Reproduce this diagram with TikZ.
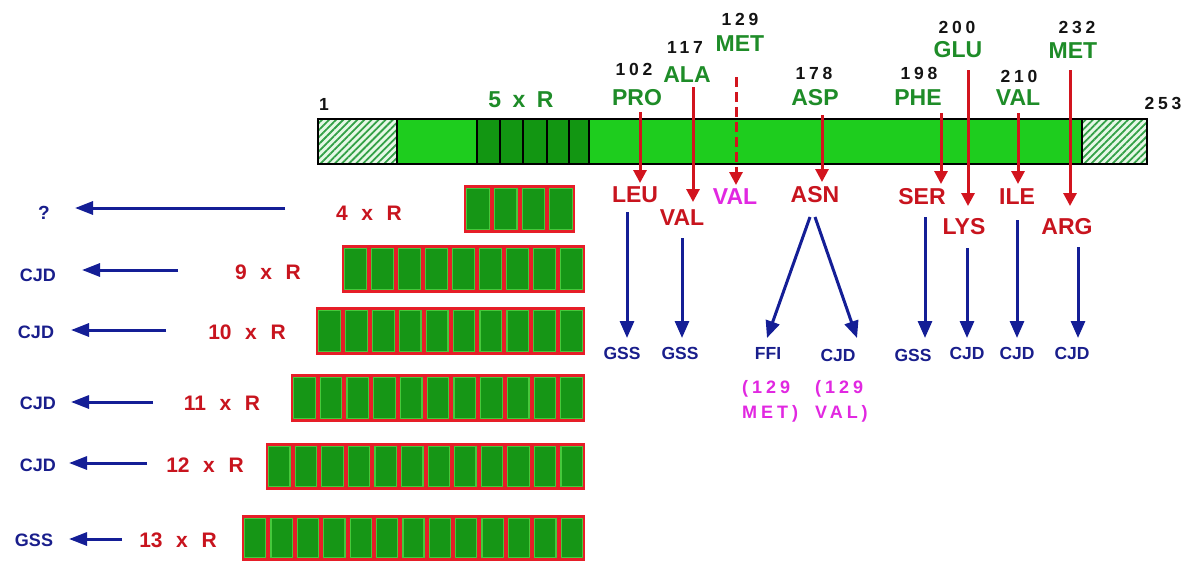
\documentclass[tikz,border=0pt]{standalone}
\usepackage{fontspec}
\setmainfont{Liberation Sans}
\newfontfamily\spfont[LetterSpace=22]{Liberation Sans Bold}
\usetikzlibrary{arrows.meta,patterns.meta}
\definecolor{barg}{RGB}{30,205,30}
\definecolor{repg}{RGB}{18,150,18}
\definecolor{hatchbg}{RGB}{230,248,230}
\definecolor{hatchg}{RGB}{50,160,70}
\definecolor{aagreen}{RGB}{30,140,40}
\definecolor{numblack}{RGB}{20,20,20}
\definecolor{mutred}{RGB}{200,20,30}
\definecolor{arrred}{RGB}{210,20,30}
\definecolor{magc}{RGB}{225,40,225}
\definecolor{disblue}{RGB}{25,30,140}
\definecolor{arrblue}{RGB}{20,30,150}
\definecolor{cellred}{RGB}{230,30,40}
\definecolor{cellg}{RGB}{22,150,22}
\definecolor{celledge}{RGB}{70,200,60}
\newcommand\xR[1]{#1\hspace{0.65em}x\hspace{0.65em}R}
\newcommand\repbox[5]{%
  \fill[cellred] (#1,#2) rectangle (#3,#4);
  \pgfmathsetmacro\cw{(#3-#1)/#5}
  \foreach \i in {1,...,#5}{%
    \pgfmathsetmacro\xa{#1+(\i-1)*\cw+2.6}
    \pgfmathsetmacro\xb{#1+\i*\cw-2.6}
    \draw[cell] (\xa,#2+3.2) rectangle (\xb,#4-3.2);
  }%
}
\begin{document}
\begin{tikzpicture}[x=1pt,y=-1pt,
  aa/.style={text=aagreen,font=\bfseries\fontsize{23}{25}\selectfont,inner sep=0pt},
  num/.style={text=numblack,font=\spfont\fontsize{17.5}{19}\selectfont,inner sep=0pt,xshift=2pt},
  mut/.style={text=mutred,font=\bfseries\fontsize{23}{25}\selectfont,inner sep=0pt},
  mutm/.style={mut,text=magc},
  dis/.style={text=disblue,font=\bfseries\fontsize{17.5}{19}\selectfont,inner sep=0pt},
  ldis/.style={text=disblue,font=\bfseries\fontsize{18}{20}\selectfont,inner sep=0pt},
  rlab/.style={text=mutred,font=\bfseries\fontsize{21}{23}\selectfont,inner sep=0pt},
  mag/.style={text=magc,font=\spfont\fontsize{18}{25}\selectfont,align=left,inner sep=0pt,anchor=north west},
  ra/.style={draw=arrred,line width=3pt,-{Triangle[length=13pt,width=13pt]}},
  rad/.style={ra,dash pattern=on 10pt off 5pt},
  ba/.style={draw=arrblue,line width=3pt,-{Triangle[length=17pt,width=14pt]}},
  la/.style={draw=arrblue,line width=3pt,-{Triangle[length=18pt,width=13pt]}},
  cell/.style={fill=cellg,draw=celledge,line width=1.2pt},
  barline/.style={draw=black,line width=1.5pt},
]
\useasboundingbox (0,0) rectangle (1193,562);
\fill[white] (0,0) rectangle (1193,562);

% main bar
\fill[hatchbg] (318,119) rectangle (397,164);
\fill[pattern={Lines[angle=45,distance=5pt,line width=1.8pt]},pattern color=hatchg] (318,119) rectangle (397,164);
\fill[hatchbg] (1082,119) rectangle (1147,164);
\fill[pattern={Lines[angle=45,distance=5pt,line width=1.8pt]},pattern color=hatchg] (1082,119) rectangle (1147,164);
\fill[barg] (397,119) rectangle (1082,164);
\fill[repg] (477,119) rectangle (589,164);
\foreach \x in {397,477,500,523,547,569,589,1082} \draw[barline,line width=1.2pt] (\x,119) -- (\x,164);
\draw[barline] (318,119) rectangle (1147,164);

% repeat boxes
\repbox{464}{185}{575}{233}{4}
\repbox{342}{245}{585}{293}{9}
\repbox{316}{307}{585}{355}{10}
\repbox{291}{374}{585}{422}{11}
\repbox{266}{443}{585}{490}{12}
\repbox{242}{515}{585}{561}{13}

% top labels
\node[num] (n1) at (322,104) {1};
\node[aa] (r5) at (521,100) {5\hspace{0.5em}x\hspace{0.5em}R};
\node[num] (n102) at (632,69) {102};
\node[aa] (pro) at (637,98) {PRO};
\node[num] (n117) at (683,47) {117};
\node[aa] (ala) at (687,75) {ALA};
\node[num] (n129) at (738,19) {129};
\node[aa] (met1) at (740,44) {MET};
\node[num] (n178) at (812,73) {178};
\node[aa] (asp) at (815,98) {ASP};
\node[num] (n198) at (917,73) {198};
\node[aa] (phe) at (918,98) {PHE};
\node[num] (n200) at (955,27) {200};
\node[aa] (glu) at (958,50) {GLU};
\node[num] (n210) at (1017,76) {210};
\node[aa] (val2) at (1018,98) {VAL};
\node[num] (n232) at (1075,27) {232};
\node[aa] (met2) at (1073,51) {MET};
\node[num] (n253) at (1161,103) {253};

% mutant labels
\node[mut] (leu) at (635,195) {LEU};
\node[mut] (valr) at (682,218) {VAL};
\node[mutm] (valm) at (735,197) {VAL};
\node[mut] (asn) at (815,195) {ASN};
\node[mut] (ser) at (922,197) {SER};
\node[mut] (lys) at (964,227) {LYS};
\node[mut] (ile) at (1017,197) {ILE};
\node[mut] (arg) at (1067,227) {ARG};

% disease labels
\node[dis] (gss1) at (622,353) {GSS};
\node[dis] (gss2) at (680,353) {GSS};
\node[dis] (ffi) at (768,353) {FFI};
\node[dis] (cjd1) at (838,355) {CJD};
\node[dis] (gss3) at (913,355) {GSS};
\node[dis] (cjd2) at (967,353) {CJD};
\node[dis] (cjd3) at (1017,353) {CJD};
\node[dis] (cjd4) at (1072,353) {CJD};
\node[mag] (mag1) at (742,380) {(129\\MET)};
\node[mag] (mag2) at (815,380) {(129\\VAL)};

% red arrows
\draw[ra] ([xshift=3pt,yshift=-14pt]pro.center) -- ([xshift=5pt,yshift=12pt]leu.center);
\draw[ra] ([xshift=6pt,yshift=-12pt]ala.center) -- ([xshift=11pt,yshift=16pt]valr.center);
\draw[rad] ([xshift=-4pt,yshift=-33pt]met1.center) -- ([xshift=1pt,yshift=12pt]valm.center);
\draw[ra] ([xshift=7pt,yshift=-17pt]asp.center) -- ([xshift=7pt,yshift=13pt]asn.center);
\draw[ra] ([xshift=23pt,yshift=-15pt]phe.center) -- ([xshift=19pt,yshift=13pt]ser.center);
\draw[ra] ([xshift=10pt,yshift=-20pt]glu.center) -- ([xshift=4pt,yshift=21pt]lys.center);
\draw[ra] ([yshift=-15pt]val2.center) -- ([xshift=1pt,yshift=13pt]ile.center);
\draw[ra] ([xshift=-3pt,yshift=-19pt]met2.center) -- ([xshift=3pt,yshift=21pt]arg.center);

% blue arrows
\draw[ba] ([xshift=-8pt,yshift=-17pt]leu.center) -- ([xshift=5pt,yshift=15pt]gss1.center);
\draw[ba] ([yshift=-20pt]valr.center) -- ([xshift=2pt,yshift=15pt]gss2.center);
\draw[ba] ([xshift=-5pt,yshift=-22pt]asn.center) -- ([xshift=-1pt,yshift=15pt]ffi.center);
\draw[ba] ([yshift=-22pt]asn.center) -- ([xshift=19pt,yshift=17pt]cjd1.center);
\draw[ba] ([xshift=3pt,yshift=-20pt]ser.center) -- ([xshift=12pt,yshift=17pt]gss3.center);
\draw[ba] ([xshift=3pt,yshift=-21pt]lys.center) -- ([yshift=15pt]cjd2.center);
\draw[ba] ([yshift=-23pt]ile.center) -- ([yshift=15pt]cjd3.center);
\draw[ba] ([xshift=11pt,yshift=-20pt]arg.center) -- ([xshift=6pt,yshift=15pt]cjd4.center);

% left rows
\node[ldis,font=\bfseries\fontsize{19}{21}\selectfont] (d4) at (44,213) {?};
\node[rlab] (l4) at (369,213) {\xR{4}};
\node[ldis] (d9) at (38,275) {CJD};
\node[rlab] (l9) at (268,272) {\xR{9}};
\node[ldis] (d10) at (36,332) {CJD};
\node[rlab] (l10) at (247,332) {\xR{10}};
\node[ldis] (d11) at (38,403) {CJD};
\node[rlab] (l11) at (222,403) {\xR{11}};
\node[ldis] (d12) at (38,465) {CJD};
\node[rlab] (l12) at (205,465) {\xR{12}};
\node[ldis] (d13) at (34,540) {GSS};
\node[rlab] (l13) at (178,540) {\xR{13}};

\draw[la] ([xshift=-84pt,yshift=5pt]l4.center) -- ([xshift=31pt,yshift=5pt]d4.center);
\draw[la] ([xshift=-90pt,yshift=2pt]l9.center) -- ([xshift=44pt,yshift=5pt]d9.center);
\draw[la] ([xshift=-81pt,yshift=2pt]l10.center) -- ([xshift=35pt,yshift=2pt]d10.center);
\draw[la] ([xshift=-69pt,yshift=1pt]l11.center) -- ([xshift=33pt,yshift=1pt]d11.center);
\draw[la] ([xshift=-58pt,yshift=2pt]l12.center) -- ([xshift=31pt,yshift=2pt]d12.center);
\draw[la] ([xshift=-56pt,yshift=1pt]l13.center) -- ([xshift=35pt,yshift=1pt]d13.center);
\end{tikzpicture}
\end{document}
